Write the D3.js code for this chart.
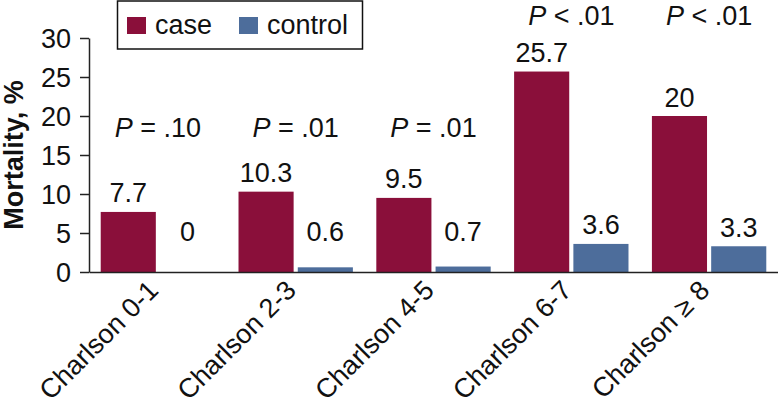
<!DOCTYPE html>
<html>
<head>
<meta charset="utf-8">
<script src="https://cdn.jsdelivr.net/npm/d3@7"></script>
<style>
  html, body { margin: 0; padding: 0; background: #fff; }
  svg { display: block; font-family: "Liberation Sans", Arial, Helvetica, sans-serif; }
</style>
</head>
<body>
<svg id="chart" width="778" height="410"></svg>
<script>
const categories = ["Charlson 0-1", "Charlson 2-3", "Charlson 4-5", "Charlson 6-7", "Charlson \u2265 8"];
const seriesNames = ["case", "control"];
const caseValues = [7.7, 10.3, 9.5, 25.7, 20];
const controlValues = [0, 0.6, 0.7, 3.6, 3.3];
const caseLabels = ["7.7", "10.3", "9.5", "25.7", "20"];
const controlLabels = ["0", "0.6", "0.7", "3.6", "3.3"];
const pLabels = [["=", ".10"], ["=", ".01"], ["=", ".01"], ["<", ".01"], ["<", ".01"]];
const pLevels = [17.3, 17.3, 17.3, 31.7, 31.7];
const yTicks = [0, 5, 10, 15, 20, 25, 30];
const colors = { case: "#8A0F3A", control: "#4D6D9B" };

const svg = d3.select("#chart");
const mLeft = 89, mRight = 778, mTop = 38, mBottom = 272;

const x0 = d3.scaleBand().domain(categories).range([mLeft, mRight]).paddingInner(0.17).paddingOuter(0.085);
const x1 = d3.scaleBand().domain(seriesNames).range([0, x0.bandwidth()]).paddingInner(0.07);
const y = d3.scaleLinear().domain([0, 30]).range([mBottom, mTop]);

const data = categories.map((c, i) => ({ cat: c, vals: [
  { key: "case", v: caseValues[i], label: caseLabels[i] },
  { key: "control", v: controlValues[i], label: controlLabels[i] }
]}));

// bars
const g = svg.append("g");
const groups = g.selectAll("g.grp").data(data).join("g")
  .attr("transform", d => `translate(${x0(d.cat)},0)`);
groups.selectAll("rect").data(d => d.vals).join("rect")
  .attr("x", d => x1(d.key))
  .attr("width", x1.bandwidth())
  .attr("y", d => y(d.v))
  .attr("height", d => y(0) - y(d.v))
  .attr("fill", d => colors[d.key]);

// value labels
groups.selectAll("text.val").data(d => d.vals).join("text")
  .attr("class", "val")
  .attr("x", d => x1(d.key) + x1.bandwidth() / 2)
  .attr("y", d => Math.min(y(d.v), y(2.7)) - 9.5)
  .attr("text-anchor", "middle")
  .attr("font-size", 27)
  .attr("fill", "#111")
  .text(d => d.label);

// P labels
groups.append("text")
  .attr("x", x0.bandwidth() / 2)
  .attr("y", (d, i) => y(pLevels[i]))
  .attr("text-anchor", "middle")
  .attr("font-size", 27)
  .attr("fill", "#111")
  .each(function(d, i) {
    const t = d3.select(this);
    t.append("tspan").attr("font-style", "italic").text("P");
    t.append("tspan").text(" " + pLabels[i][0] + " " + pLabels[i][1]);
  });

// y axis
const yAxis = d3.axisLeft(y).tickValues(yTicks).tickSize(9).tickSizeOuter(0).tickPadding(9);
const ya = svg.append("g").attr("transform", `translate(${mLeft},0)`).call(yAxis);
ya.attr("font-family", null).attr("font-size", null);
ya.select(".domain").attr("stroke", "#222").attr("stroke-width", 1.5);
ya.selectAll(".tick line").attr("stroke", "#222").attr("stroke-width", 1.5);
ya.selectAll(".tick text").attr("font-size", 27).attr("fill", "#111").attr("dy", "0.36em");

// x axis
const xAxis = d3.axisBottom(x0).tickSize(0).tickSizeOuter(0).tickFormat("");
const xa = svg.append("g").attr("transform", `translate(0,${mBottom})`).call(xAxis);
xa.attr("font-family", null).attr("font-size", null);
xa.select(".domain").attr("stroke", "#222").attr("stroke-width", 1.5);
xa.selectAll(".tick").append("text")
  .attr("transform", "translate(2,20) rotate(-45)")
  .attr("text-anchor", "end")
  .attr("font-size", 27)
  .attr("fill", "#111")
  .text(d => d);

// y title
svg.append("text")
  .attr("transform", `translate(23,${(mTop + mBottom) / 2}) rotate(-90)`)
  .attr("text-anchor", "middle")
  .attr("font-size", 27)
  .attr("font-weight", "bold")
  .attr("fill", "#111")
  .text("Mortality, %");

// legend
const lg = svg.append("g");
lg.append("rect").attr("x", 117.5).attr("y", 1).attr("width", 245).attr("height", 48)
  .attr("fill", "#fff").attr("stroke", "#111").attr("stroke-width", 1.5);
const legendItems = [{ key: "case", x: 127 }, { key: "control", x: 239 }];
lg.selectAll("rect.sw").data(legendItems).join("rect").attr("class", "sw")
  .attr("x", d => d.x).attr("y", 17).attr("width", 19).attr("height", 17)
  .attr("fill", d => colors[d.key]);
lg.selectAll("text").data(legendItems).join("text")
  .attr("x", d => d.x + 28).attr("y", 34)
  .attr("font-size", 27).attr("fill", "#111")
  .text(d => d.key);
</script>
</body>
</html>
